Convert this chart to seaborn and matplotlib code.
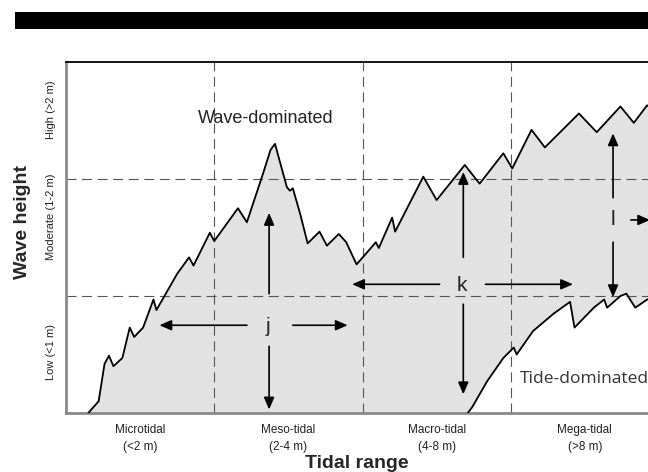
import matplotlib
matplotlib.use("Agg")
import matplotlib.pyplot as plt
import seaborn as sns
from matplotlib.patches import Rectangle

# Classes de maré (eixo x) e de altura de onda (eixo y)
tidal_labels = ["Microtidal\n(<2 m)", "Meso-tidal\n(2-4 m)", "Macro-tidal\n(4-8 m)", "Mega-tidal\n(>8 m)"]
tidal_pos = [0.5, 1.5, 2.5, 3.5]
wave_labels = ["Low (<1 m)", "Moderate (1-2 m)", "High (>2 m)"]
wave_pos = [0.52, 1.68, 2.59]

# Limite superior (dominado por ondas)
upper_x = [0.15, 0.22, 0.26, 0.29, 0.32, 0.38, 0.43, 0.46, 0.52, 0.59, 0.61, 0.75, 0.83, 0.86,
           0.97, 1.00, 1.16, 1.22, 1.33, 1.38, 1.41, 1.44, 1.49, 1.51, 1.53, 1.58, 1.63, 1.71,
           1.76, 1.84, 1.89, 1.96, 2.07, 2.09, 2.11, 2.20, 2.22, 2.41, 2.50, 2.69, 2.79, 2.95,
           3.01, 3.14, 3.23, 3.46, 3.58, 3.74, 3.83, 3.92, 4.00]
upper_y = [0.00, 0.10, 0.42, 0.49, 0.40, 0.47, 0.73, 0.65, 0.73, 0.97, 0.88, 1.19, 1.33, 1.26,
           1.54, 1.47, 1.75, 1.63, 2.05, 2.25, 2.30, 2.16, 1.93, 1.90, 1.92, 1.70, 1.45, 1.55,
           1.43, 1.53, 1.46, 1.27, 1.43, 1.46, 1.41, 1.67, 1.55, 2.02, 1.82, 2.12, 1.96, 2.22,
           2.09, 2.42, 2.27, 2.56, 2.40, 2.62, 2.48, 2.63, 2.56]

# Limite inferior (dominado por maré)
lower_x = [2.71, 2.74, 2.84, 2.95, 3.02, 3.04, 3.15, 3.29, 3.40, 3.43, 3.56, 3.63, 3.65, 3.74,
           3.78, 3.84, 3.92, 4.00]
lower_y = [0.00, 0.05, 0.27, 0.47, 0.56, 0.50, 0.70, 0.85, 0.95, 0.73, 0.90, 0.97, 0.90, 1.00,
           1.02, 0.90, 0.97, 1.00]

sns.set_theme(style="white")
plt.rcParams['font.family'] = ['Liberation Sans', 'DejaVu Sans']

fig = plt.figure(figsize=(6.48, 4.72), dpi=100)
ax = fig.add_axes([66 / 648, (472 - 413) / 472, 593 / 648, 351 / 472])

# Faixa preta no topo
fig.patches.append(Rectangle((15 / 648, 1 - 29 / 472), 1, 17 / 472, transform=fig.transFigure,
                             facecolor='black', edgecolor='none'))

# Área sombreada entre os dois limites
poly_x = upper_x + lower_x[::-1]
poly_y = upper_y + lower_y[::-1]
ax.fill(poly_x, poly_y, facecolor='#e2e2e2', edgecolor='none', zorder=1)

sns.lineplot(x=upper_x, y=upper_y, color='black', linewidth=1.3, ax=ax, sort=False, zorder=3)
sns.lineplot(x=lower_x, y=lower_y, color='black', linewidth=1.3, ax=ax, sort=False, zorder=3)

# Linhas tracejadas de classe
for xv in [1, 2, 3]:
    ax.axvline(xv, color='#555555', linewidth=0.8, dashes=(9, 5), zorder=2)
for yv in [1, 2]:
    ax.axhline(yv, color='#555555', linewidth=0.8, dashes=(9, 5), zorder=2)

ax.set_xlim(0, 4)
ax.set_ylim(0, 3)

# Setas
def arrow(x0, y0, x1, y1):
    ax.annotate('', xy=(x1, y1), xytext=(x0, y0),
                arrowprops=dict(arrowstyle='-|>,head_length=0.6,head_width=0.26', color='black',
                                lw=1.2, mutation_scale=12, shrinkA=0, shrinkB=0), zorder=4)

# j
arrow(1.22, 0.75, 0.63, 0.75)
arrow(1.53, 0.75, 1.90, 0.75)
arrow(1.37, 1.02, 1.37, 1.71)
arrow(1.37, 0.57, 1.37, 0.03)
ax.text(1.36, 0.74, 'j', fontsize=15, ha='center', va='center', color='#222222', zorder=5)
# k
arrow(2.52, 1.10, 1.93, 1.10)
arrow(2.83, 1.10, 3.42, 1.10)
arrow(2.68, 1.33, 2.68, 2.06)
arrow(2.68, 0.93, 2.68, 0.16)
ax.text(2.67, 1.09, 'k', fontsize=15, ha='center', va='center', color='#222222', zorder=5)
# l
arrow(3.69, 1.84, 3.69, 2.39)
arrow(3.69, 1.46, 3.69, 0.99)
arrow(3.81, 1.65, 3.94, 1.65)
ax.text(3.69, 1.65, 'l', fontsize=15, ha='center', va='center', color='#222222', zorder=5)

ax.text(1.35, 2.52, 'Wave-dominated', fontsize=13, ha='center', va='center', color='#222222')
ax.text(3.06, 0.29, 'Tide-dominated', fontsize=12.5, ha='left', va='center', color='#333333',
        family=['Open Sans', 'DejaVu Sans'])

# Eixos e rótulos
ax.set_xticks(tidal_pos, tidal_labels, fontsize=8.5, color='#222222', linespacing=1.5)
ax.set_yticks(wave_pos, wave_labels, fontsize=8, color='#222222', rotation=90, va='center')
ax.tick_params(axis='x', length=0, pad=8)
ax.tick_params(axis='y', length=0, pad=7)

for side in ['left', 'bottom']:
    ax.spines[side].set_color('#8a8a8a')
    ax.spines[side].set_linewidth(2)
ax.spines['top'].set_color('black')
ax.spines['top'].set_linewidth(1.3)
ax.spines['right'].set_visible(False)

fig.text(23 / 648, 1 - 222 / 472, 'Wave height', fontsize=14, fontweight='bold',
         rotation=90, ha='center', va='center')
fig.text(357 / 648, 1 - 464 / 472, 'Tidal range', fontsize=14, fontweight='bold',
         ha='center', va='center')

fig.savefig('out.png', dpi=100)
